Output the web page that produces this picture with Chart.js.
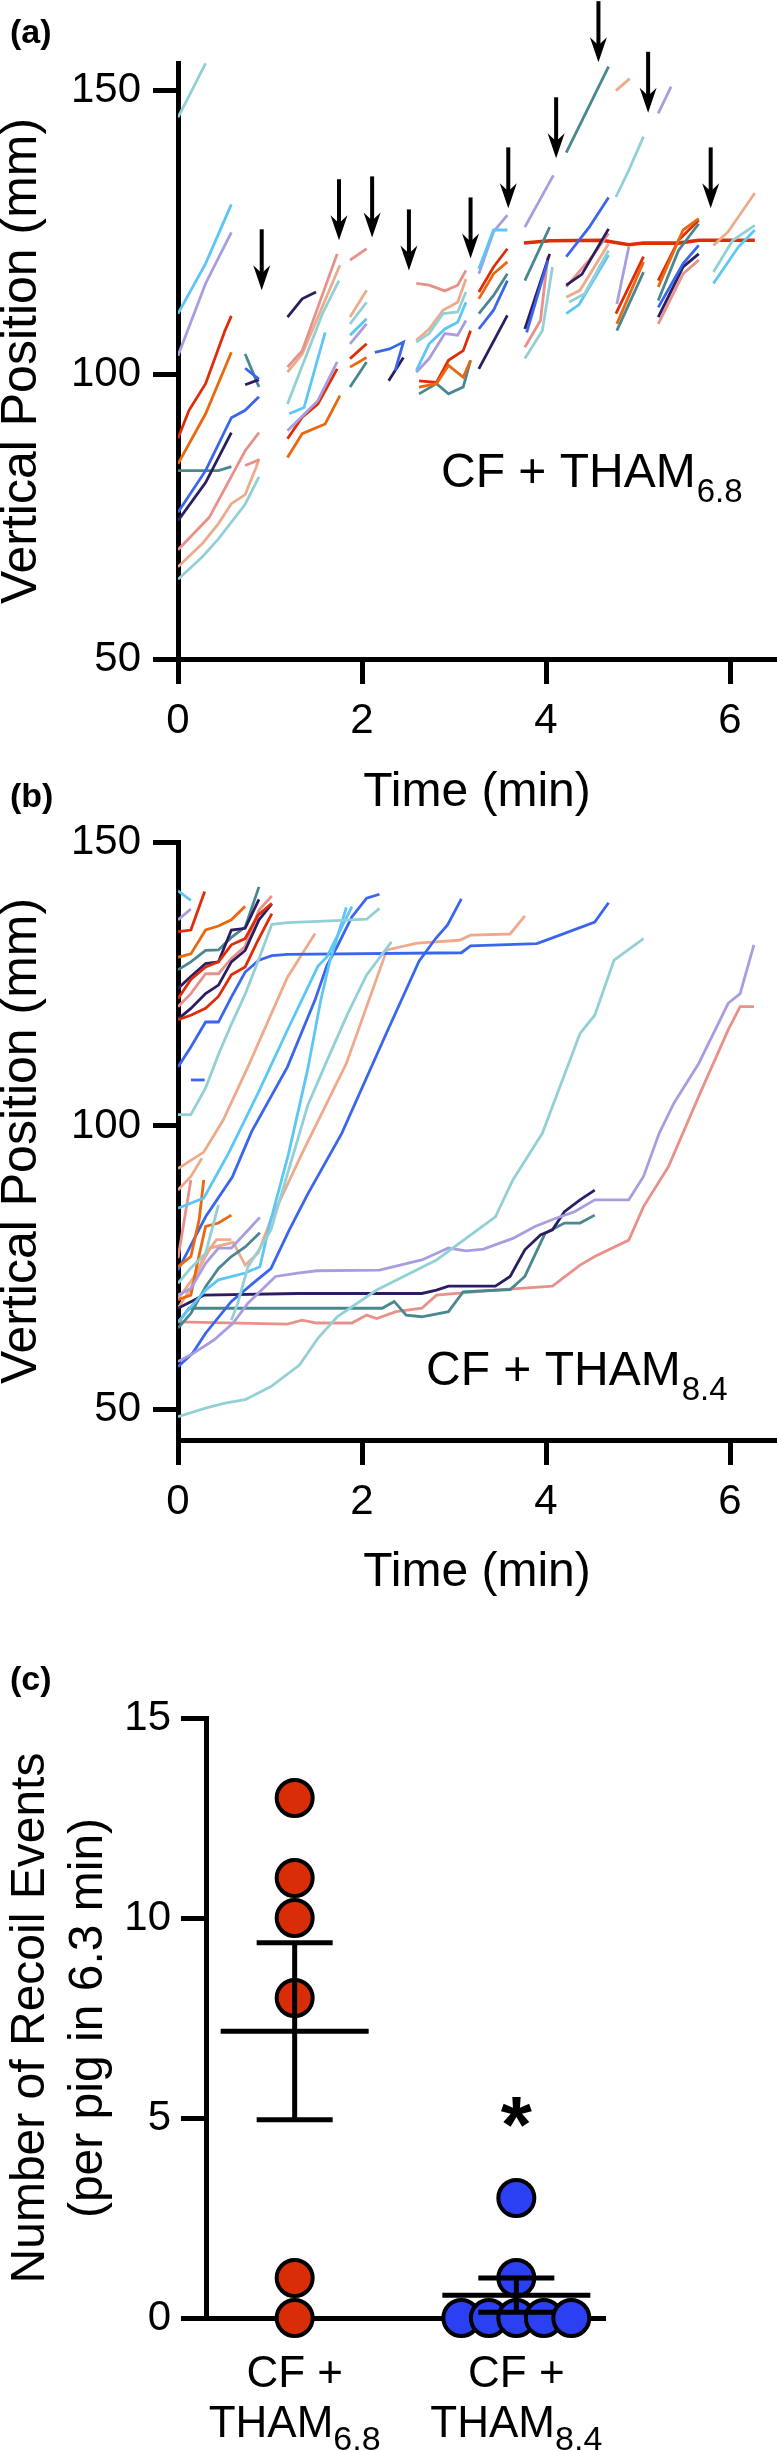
<!DOCTYPE html>
<html>
<head>
<meta charset="utf-8">
<script src="https://cdn.jsdelivr.net/npm/chart.js@4.4.0/dist/chart.umd.min.js"></script>
<style>
  html, body { margin: 0; padding: 0; background: #fff; }
  body { width: 777px; height: 2451px; position: relative; overflow: hidden; font-family: 'Liberation Sans', Arial, sans-serif; }
  canvas { position: absolute; left: 0; }
  .tag { position: absolute; left: 10px; font-weight: bold; font-size: 34px; line-height: 1; color: #000; }
</style>
</head>
<body>
<canvas id="chartA" width="777" height="817" style="top:0"></canvas>
<canvas id="chartB" width="777" height="837" style="top:760px"></canvas>
<canvas id="chartC" width="777" height="811" style="top:1640px"></canvas>
<div class="tag" style="top:14px">(a)</div>
<div class="tag" style="top:778px">(b)</div>
<div class="tag" style="top:1661px">(c)</div>
<script>
// tick labels
const xTicksTime = [0, 2, 4, 6];
const yTicksA = [50, 100, 150];
const yTicksB = [50, 100, 150];
const yTicksC = [0, 5, 10, 15];

// panel (a): CF + THAM 6.8 - each pig, list of tracked segments [t, v, t, v, ...] (min, mm)
const a_paleTeal = [
  [0,145.2, 0.1,148.3, 0.3,154.7],
  [0,64, 0.26,67.9, 0.44,71.1, 0.73,77.2, 0.88,82],
  [1.19,94.8, 1.57,110.7, 1.75,116.5],
  [1.87,108.9, 2.05,112.7],
  [2.59,105.7, 2.73,107.2, 2.88,110.7, 3.04,111, 3.13,114.5],
  [3.77,102.8, 3.96,107.7, 4.07,118.9],
  [4.25,112.7, 4.42,114.2, 4.68,121.8],
  [4.76,131.2, 4.9,135.9, 5.06,141.8],
  [5.82,118, 6.03,123.6, 6.27,126.2]
];
const a_sky = [
  [0,110.7, 0.3,119.5, 0.58,129.9],
  [1.21,93.1, 1.37,94.2, 1.6,107.4],
  [1.87,106.9, 2.05,109.8],
  [2.59,100.7, 2.73,105.4, 2.9,108, 3.04,109.2, 3.13,112.7],
  [3.27,118.6, 3.43,125.4, 3.58,125.4],
  [4.22,110.7, 4.36,112.3, 4.68,121],
  [5.82,116, 6.09,122.4, 6.27,125.4]
];
const a_lavender = [
  [0,103.3, 0.3,116, 0.58,125],
  [1.19,90.1, 1.52,95.4, 1.73,102.2],
  [1.87,105.4, 2.05,108.9],
  [2.59,100.4, 2.73,102.8, 2.9,107.2, 3.04,106.9, 3.13,109.5],
  [3.27,117.7, 3.43,125.1, 3.58,128],
  [3.77,125.9, 4.08,135],
  [4.77,112.4, 4.9,122.4],
  [5.22,145.9, 5.36,150.6]
];
const a_red = [
  [0,88.8, 0.12,93.7, 0.3,98.4, 0.51,107.7, 0.58,110.3],
  [1.19,88.7, 1.35,92.5, 1.52,94.8, 1.73,101],
  [1.87,102.8, 2.05,105.4],
  [2.62,98.9, 2.81,98.6, 2.94,102.5, 3.1,104.2, 3.18,107.7],
  [3.27,114.5, 3.43,118.9, 3.58,122.1],
  [4.76,110.7, 5.06,120.7],
  [5.22,116.5, 5.44,123.6, 5.66,127.1]
];
// the one pig that stays at the same position after 3.8 min
const a_redHold = [3.76,123.1, 4.04,123.5, 4.61,123.6, 4.9,122.8, 5.06,123.1, 5.44,123.1, 5.66,123.6, 6.27,123.6];
const a_orange = [
  [0,84.3, 0.3,93.1, 0.58,103.9],
  [1.19,85.4, 1.35,89.6, 1.6,91.3, 1.76,96.3],
  [1.87,101.3, 2.05,103],
  [2.62,97.8, 2.81,98.4, 2.94,101.6, 3.1,99.5, 3.18,102.5],
  [3.27,113.3, 3.43,117.7, 3.58,119.8],
  [4.77,108.9, 5.06,119.8],
  [5.22,115.4, 5.49,125.4, 5.66,127.4]
];
const a_blue = [
  [0,75.8, 0.3,83.1, 0.58,92.4, 0.73,93.7, 0.88,96.1],
  [0.73,101.1, 0.88,99.2],
  [2.14,103.9, 2.3,104.5, 2.45,105.7, 2.36,100.7],
  [3.27,108, 3.43,111.3, 3.58,116.5],
  [3.79,107.4, 4.02,120],
  [4.22,120.7, 4.47,125.9, 4.68,131.1],
  [5.22,111.8, 5.49,119.5, 5.66,122.7]
];
const a_navy = [
  [0,74.3, 0.3,81, 0.58,89.8],
  [0.73,98.2, 0.88,99.1],
  [1.19,110.1, 1.35,113.3, 1.5,114.5],
  [2.29,98.9, 2.45,103],
  [3.27,101, 3.58,110.4],
  [3.77,108, 4.04,121.2],
  [4.22,115.7, 4.39,117.6, 4.68,125.6],
  [5.22,110.1, 5.49,118.9, 5.66,121.2]
];
const a_teal = [
  [0,83.1, 0.44,83.1, 0.58,83.8],
  [0.73,103.6, 0.88,97.8],
  [1.87,97.8, 2.05,102.2],
  [2.62,96.6, 2.81,98.4, 2.94,96.6, 3.1,97.8, 3.18,102.5],
  [3.27,110.7, 3.43,113.9, 3.58,117.7],
  [3.77,116.5, 4.04,125.9],
  [4.22,139, 4.68,154.1],
  [4.77,107.7, 5.06,118],
  [5.22,113, 5.44,121.8, 5.66,126.5]
];
const a_salmon = [
  [0,69.2, 0.34,74.9, 0.73,86.6, 0.88,89.8],
  [0.73,84, 0.88,85],
  [1.19,101.3, 1.35,104.2, 1.73,121.2],
  [1.87,120.1, 2.05,122.1],
  [2.59,116, 2.73,115.7, 2.9,114.7, 3.04,115.7, 3.13,118.3],
  [3.77,104.8, 3.94,109.5, 4.02,120.7],
  [4.22,115.4, 4.5,120.7, 4.68,124.8],
  [5.22,108.9, 5.49,117.7, 5.66,120.1]
];
const a_peach = [
  [0,66.2, 0.26,70.2, 0.44,73.8, 0.58,77.3, 0.73,78.9, 0.85,83.7, 0.88,85.2],
  [1.19,100.4, 1.35,103.6, 1.76,119.2],
  [1.87,110.1, 2.05,114.8],
  [2.59,106, 2.73,108, 2.88,111.3, 3.04,112.7, 3.13,116.8],
  [4.22,113.6, 4.37,114.8, 4.68,123],
  [4.76,149.9, 4.91,152],
  [5.82,122.7, 5.98,125.1, 6.27,131.9]
];

// recoil events marked by arrows in (a): time and tip position
const recoilT = [0.91, 1.75, 2.11, 2.51, 3.18, 3.59, 4.11, 4.57, 5.11, 5.79];
const recoilV = [114.8, 123.6, 124.1, 118.3, 120.4, 129.2, 138.0, 154.9, 146.0, 129.2];

// panel (b): CF + THAM 8.4
const b_paleTeal = [
  [0,102, 0.14,102, 0.3,106.7, 0.44,112.6, 0.58,117.9, 0.73,123.2, 0.87,129, 1.02,135.5, 1.19,135.8, 1.78,136.2, 2.05,136.4, 2.19,138.3],
  [0,48.8, 0.3,50.3, 0.51,51.2, 0.73,51.8, 1.01,54.1, 1.32,57.9, 1.52,62.6, 1.73,66.4, 2.16,71.1, 2.81,76.4, 3.45,84, 3.64,90.5, 3.96,98.7, 4.37,116.3, 4.53,119.5, 4.74,129.2, 5.06,133],
  [0.58,65.8, 0.65,68.8, 0.76,75.2, 0.9,78.7, 1.01,81.7, 1.41,103.6, 1.63,111.9, 1.84,119.6, 2.05,126.6, 2.32,132.4],
  [0,72.3, 0.14,75, 0.3,77.6, 0.44,86.1]
];
const b_sky = [
  [0,141.4, 0.14,139.7],
  [0,85.5, 0.28,87.3, 0.55,95.2, 0.87,105.8, 1.19,116.9, 1.52,128.1, 1.62,129.8, 1.89,138.6],
  [0,65.5, 0.16,68.5, 0.3,71.1, 0.44,72.9, 0.73,74.1, 0.89,75.2, 1.0,82.9, 1.2,95, 1.41,110, 1.55,122, 1.65,129, 1.83,138.5]
];
const b_lavender = [
  [0,136.3, 0.14,138.2],
  [0,58.5, 0.17,60, 0.39,62.3, 0.6,65.3, 0.76,68.8, 1.06,73.5, 1.3,74.1, 1.51,74.5, 2.19,74.6, 2.65,76.4, 2.94,78.5, 3.13,78, 3.32,78.3, 3.64,80.2, 3.88,82.3, 4.1,83.7, 4.31,84.9, 4.53,87, 4.9,87, 5.06,91.1, 5.23,98.7, 5.39,104, 5.66,111, 5.98,121.6, 6.11,123.3, 6.26,131.9],
  [0,70.2, 0.14,71.4, 0.3,75.8, 0.44,78.5, 0.58,78.5, 0.73,81.1, 0.89,83.9]
];
const b_red = [
  [0,134.2, 0.14,134.5, 0.29,141.3],
  [0,122.4, 0.14,125.8, 0.3,128, 0.44,128.9, 0.58,131.9, 0.73,133, 0.87,137.1, 1.02,139.2],
  [0,118.7, 0.14,119.5, 0.3,120.7, 0.44,122.8, 0.58,126.6, 0.73,128, 0.87,132.7, 1.02,137.4]
];
const b_orange = [
  [0,129.7, 0.14,130.3, 0.3,134.5, 0.44,135.2, 0.58,136.3, 0.73,138.7],
  [0,75.2, 0.14,77, 0.23,83.5, 0.28,90.5],
  [0,69.4, 0.14,70.2, 0.21,75.8, 0.3,82.3, 0.44,82.9, 0.58,84.3]
];
const b_blue = [
  [0,110.4, 0.14,113.9, 0.3,118.3, 0.44,118.3, 0.58,122.7, 0.73,127.1, 0.88,129.2, 1.02,130, 1.19,130.2, 3.08,130.5, 3.18,131.7, 3.9,132.1, 4.1,133.3, 4.53,135.9, 4.68,139.3],
  [0.14,108.1, 0.29,108.1],
  [0,74.6, 0.3,84, 0.59,91, 0.8,99, 1.19,110.4, 1.49,122.2, 1.62,128.3, 1.73,131.6, 1.89,136.8, 2.05,140.1, 2.19,140.8],
  [0,57.6, 0.16,60, 0.3,63.5, 0.58,69.1, 0.86,72.9, 1.01,74.9, 1.21,81.7, 1.41,88, 1.78,98.7, 2.27,116.5, 2.62,129, 2.8,133, 2.93,135.4, 3.08,140]
];
const b_navy = [
  [0,124.2, 0.14,126.3, 0.3,128.6, 0.44,128.9, 0.58,134.5, 0.73,134.8, 0.88,139.9],
  [0,118.8, 0.14,120.7, 0.3,123.3, 0.44,124.8, 0.58,128.9, 0.73,130.9, 0.88,136.3, 1.02,139.1],
  [0,67.9, 0.28,70.2, 1.3,70.5, 2.65,70.5, 2.81,71.1, 2.94,71.8, 3.45,71.8, 3.61,73.5, 3.77,78.2, 3.94,80.8, 4.07,81.7, 4.2,84.9, 4.37,87, 4.53,88.7]
];
const b_teal = [
  [0,127.5, 0.14,128.9, 0.3,130.9, 0.44,131, 0.58,133.2, 0.73,135, 0.88,142.1],
  [0,65.3, 0.12,67.9, 2.22,67.9, 2.35,69.1, 2.48,66.7, 2.65,66.4, 2.94,67.3, 3.1,70.8, 3.61,71.2, 3.77,73.5, 3.99,81.1, 4.2,82.9, 4.37,82.9, 4.53,84.3],
  [0,64.4, 0.14,67, 0.3,71.7, 0.44,74.9, 0.58,77, 0.73,78.7, 0.89,81.2]
];
const b_salmon = [
  [0,121, 0.14,123.3, 0.3,126.8, 0.44,126.8, 0.58,129.5, 0.73,131.6, 0.88,138, 1.02,140.5],
  [0,65.5, 1.19,65.1, 1.35,65.8, 1.51,65.3, 1.89,65.3, 2.05,66.7, 2.16,66.1, 2.37,67.3, 2.65,67.9, 2.81,70.2, 3.45,71.1, 4.07,71.8, 4.37,75.5, 4.53,77, 4.9,79.9, 5.06,85.8, 5.33,92.8, 5.66,105.2, 5.98,116.9, 6.11,121, 6.26,121],
  [0,76.7, 0.14,90.5]
];
const b_peach = [
  [0,92.5, 0.28,95.4, 0.49,101, 0.76,110.4, 1.19,126.2, 1.49,133.9],
  [0,88.7, 0.14,91.1, 0.26,94.3],
  [0,69.5, 0.2,74, 0.35,78.5, 0.6,79.5, 0.73,75.5, 0.87,77.6, 1.01,83.5, 1.35,95.2, 1.83,111, 2.27,131, 2.6,132.2, 3.06,132.7, 3.18,133.6, 3.61,133.8, 3.77,137],
  [0,67.9, 0.14,71.4, 0.28,77, 0.42,80, 0.58,80]
];

// panel (c): recoil events per pig
const groupMain = ['CF +', 'CF +'];
const groupSub = ['6.8', '8.4'];
const recoil68 = [13, 11, 10, 8, 1, 0];
const recoil84 = [3, 1, 0, 0, 0, 0, 0];

const FONT = "'Liberation Sans', Arial, Helvetica, sans-serif";
Chart.defaults.font.family = FONT;
Chart.defaults.color = '#000';

const palette = {
  paleTeal: '#93d0d6', sky: '#5cc6f6', lavender: '#a99de0', red: '#de2d08', orange: '#e8690f',
  blue: '#3a66ee', navy: '#2c1d62', teal: '#4a8790', salmon: '#e8918b', peach: '#efaa8b'
};

function toPoints(seg) {
  const pts = [];
  for (let i = 0; i < seg.length; i += 2) pts.push({ x: seg[i], y: seg[i + 1] });
  return pts;
}

function lineSets(groups) {
  const sets = [];
  groups.forEach(([key, segs]) => {
    segs.forEach(seg => {
      sets.push({ data: toPoints(seg), showLine: true, borderColor: palette[key], borderWidth: 2.8,
                  pointRadius: 0, tension: 0, fill: false });
    });
  });
  return sets;
}

const axisGrid = { drawOnChartArea: false, drawTicks: true, tickLength: 25, tickWidth: 5, tickColor: '#000' };
const axisBorder = { display: true, width: 5, color: '#000' };

function timeScales(yMin, yMax, yTicks, xHeight) {
  return {
    x: {
      type: 'linear', min: 0, max: 6.5,
      afterBuildTicks: s => { s.ticks = xTicksTime.map(v => ({ value: v })); },
      afterFit: s => { s.height = xHeight; },
      grid: axisGrid, border: axisBorder,
      ticks: { font: { size: 42 }, padding: 12, maxRotation: 0, autoSkip: false, callback: v => String(v) },
      title: { display: true, text: 'Time (min)', font: { size: 48, lineHeight: 1 }, padding: 0 }
    },
    y: {
      type: 'linear', min: yMin, max: yMax,
      afterBuildTicks: s => { s.ticks = yTicks.map(v => ({ value: v })); },
      afterFit: s => { s.width = 178; },
      grid: axisGrid, border: axisBorder,
      ticks: { font: { size: 42 }, padding: 12, autoSkip: false, callback: v => String(v) },
      title: { display: true, text: 'Vertical Position (mm)', font: { size: 50, lineHeight: 1 }, padding: { top: -3, bottom: 0 } }
    }
  };
}

// "CF + THAM" with subscript inside the plot
const groupTag = {
  id: 'groupTag',
  afterDraw(chart, args, opts) {
    const { ctx, chartArea } = chart;
    ctx.save();
    ctx.fillStyle = '#000';
    ctx.textBaseline = 'alphabetic';
    ctx.textAlign = 'left';
    const x = chartArea.left + opts.dx, y = chartArea.top + opts.dy;
    ctx.font = '48px ' + FONT;
    ctx.fillText(opts.main, x, y);
    const w = ctx.measureText(opts.main).width;
    ctx.font = '33px ' + FONT;
    ctx.fillText(opts.sub, x + w + 1, y + 15);
    ctx.restore();
  }
};

// arrows pointing at recoil events
const recoilArrows = {
  id: 'recoilArrows',
  afterDraw(chart) {
    const { ctx, scales } = chart;
    ctx.save();
    ctx.fillStyle = '#000';
    ctx.strokeStyle = '#000';
    ctx.lineWidth = 4;
    recoilT.forEach((t, i) => {
      const x = scales.x.getPixelForValue(t);
      const tip = scales.y.getPixelForValue(recoilV[i]);
      ctx.beginPath();
      ctx.moveTo(x, tip - 61);
      ctx.lineTo(x, tip - 14);
      ctx.stroke();
      ctx.beginPath();
      ctx.moveTo(x, tip);
      ctx.lineTo(x - 8.5, tip - 25);
      ctx.lineTo(x, tip - 17);
      ctx.lineTo(x + 8.5, tip - 25);
      ctx.closePath();
      ctx.fill();
    });
    ctx.restore();
  }
};

const setsA = lineSets([
  ['paleTeal', a_paleTeal], ['sky', a_sky], ['lavender', a_lavender], ['orange', a_orange],
  ['blue', a_blue], ['navy', a_navy], ['teal', a_teal], ['salmon', a_salmon], ['peach', a_peach], ['red', a_red]
]);
setsA.push({ data: toPoints(a_redHold), showLine: true, borderColor: palette.red, borderWidth: 3.6,
             pointRadius: 0, tension: 0, fill: false });

new Chart(document.getElementById('chartA'), {
  type: 'scatter',
  data: { datasets: setsA },
  options: {
    responsive: false, animation: false, events: [],
    layout: { padding: { top: 63, right: 1, left: 0, bottom: 0 } },
    plugins: { legend: { display: false }, tooltip: { enabled: false },
               groupTag: { main: 'CF + THAM', sub: '6.8', dx: 263, dy: 424 } },
    scales: timeScales(50, 154.75, yTicksA, 158)
  },
  plugins: [groupTag, recoilArrows]
});

new Chart(document.getElementById('chartB'), {
  type: 'scatter',
  data: { datasets: lineSets([
    ['paleTeal', b_paleTeal], ['sky', b_sky], ['lavender', b_lavender], ['red', b_red], ['orange', b_orange],
    ['blue', b_blue], ['navy', b_navy], ['teal', b_teal], ['salmon', b_salmon], ['peach', b_peach]
  ]) },
  options: {
    responsive: false, animation: false, events: [],
    layout: { padding: { top: 82, right: 1, left: 0, bottom: 0 } },
    plugins: { legend: { display: false }, tooltip: { enabled: false },
               groupTag: { main: 'CF + THAM', sub: '8.4', dx: 248, dy: 543 } },
    scales: timeScales(44.7, 150, yTicksB, 157)
  },
  plugins: [groupTag]
});

// panel (c)
function spread(values, gx) {
  const counts = {}, seen = {};
  values.forEach(v => { counts[v] = (counts[v] || 0) + 1; });
  return values.map(v => {
    seen[v] = seen[v] === undefined ? 0 : seen[v] + 1;
    return { x: gx + (seen[v] - (counts[v] - 1) / 2) * 0.124, y: v };
  });
}
function meanSem(values) {
  const n = values.length;
  const m = values.reduce((a, b) => a + b, 0) / n;
  const sd = Math.sqrt(values.reduce((a, b) => a + (b - m) * (b - m), 0) / (n - 1));
  return { m, sem: sd / Math.sqrt(n) };
}
const groupsC = [recoil68, recoil84];

const summaryBars = {
  id: 'summaryBars',
  afterDatasetsDraw(chart) {
    const { ctx, scales, chartArea } = chart;
    ctx.save();
    ctx.strokeStyle = '#000';
    ctx.lineWidth = 5;
    groupsC.forEach((vals, g) => {
      const { m, sem } = meanSem(vals);
      const x = scales.x.getPixelForValue(g + 1);
      const ym = scales.y.getPixelForValue(m);
      const yh = scales.y.getPixelForValue(m + sem);
      const yl = scales.y.getPixelForValue(Math.max(m - sem, 0));
      ctx.beginPath();
      ctx.moveTo(x - 74, ym); ctx.lineTo(x + 74, ym);
      ctx.moveTo(x, yh); ctx.lineTo(x, yl);
      ctx.moveTo(x - 38, yh); ctx.lineTo(x + 38, yh);
      ctx.moveTo(x - 38, yl); ctx.lineTo(x + 38, yl);
      ctx.stroke();
    });
    // significance mark
    ctx.fillStyle = '#000';
    ctx.textAlign = 'center';
    ctx.textBaseline = 'middle';
    ctx.font = 'bold 80px ' + FONT;
    ctx.fillText('*', scales.x.getPixelForValue(2), scales.y.getPixelForValue(5.15) + 18);
    // group labels
    groupsC.forEach((vals, g) => {
      const x = scales.x.getPixelForValue(g + 1);
      ctx.textBaseline = 'alphabetic';
      ctx.textAlign = 'center';
      ctx.font = '44px ' + FONT;
      ctx.fillText(groupMain[g], x, chartArea.bottom + 69);
      ctx.textAlign = 'left';
      const wMain = ctx.measureText('THAM').width;
      ctx.font = '34px ' + FONT;
      const wSub = ctx.measureText(groupSub[g]).width;
      const x0 = x - (wMain + wSub) / 2;
      ctx.font = '44px ' + FONT;
      ctx.fillText('THAM', x0, chartArea.bottom + 119);
      ctx.font = '34px ' + FONT;
      ctx.fillText(groupSub[g], x0 + wMain, chartArea.bottom + 132);
    });
    ctx.restore();
  }
};

new Chart(document.getElementById('chartC'), {
  type: 'scatter',
  data: { datasets: [
    { data: spread(recoil68, 1), pointRadius: 18, borderWidth: 4, backgroundColor: '#d92d07', borderColor: '#000', clip: false },
    { data: spread(recoil84, 2), pointRadius: 18, borderWidth: 4, backgroundColor: '#2b3ff3', borderColor: '#000', clip: false }
  ] },
  options: {
    responsive: false, animation: false, events: [],
    layout: { padding: { top: 78, right: 172, left: 0, bottom: 0 } },
    plugins: { legend: { display: false }, tooltip: { enabled: false } },
    scales: {
      x: {
        type: 'linear', min: 0.6, max: 2.4,
        afterFit: s => { s.height = 133; },
        grid: { display: false }, border: axisBorder,
        ticks: { display: false }
      },
      y: {
        type: 'linear', min: 0, max: 15,
        afterBuildTicks: s => { s.ticks = yTicksC.map(v => ({ value: v })); },
        afterFit: s => { s.width = 206; },
        grid: axisGrid, border: axisBorder,
        ticks: { font: { size: 42 }, padding: 10, autoSkip: false, callback: v => String(v) },
        title: { display: true, text: ['Number of Recoil Events', '(per pig in 6.3 min)'],
                 font: { size: 48, lineHeight: 1.2 }, padding: { top: 2, bottom: 0 } }
      }
    }
  },
  plugins: [summaryBars]
});
</script>
</body>
</html>
